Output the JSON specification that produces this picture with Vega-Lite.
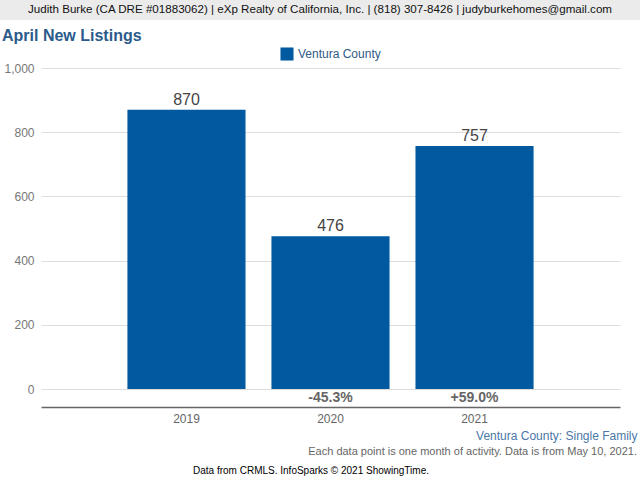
{
  "$schema": "https://vega.github.io/schema/vega-lite/v6.json",
  "padding": 0,
  "spacing": 3,
  "background": "white",
  "resolve": {"scale": {"color": "independent"}, "legend": {"color": "independent"}},
  "config": {
    "font": "Liberation Sans",
    "view": {"stroke": null},
    "legend": {"layout": {"top": {"anchor": "middle"}}}
  },
  "title": {
    "text": "Data from CRMLS. InfoSparks © 2021 ShowingTime.",
    "orient": "bottom",
    "anchor": "middle",
    "fontSize": 10,
    "fontWeight": "normal",
    "color": "#000000",
    "font": "Liberation Sans",
    "offset": 9,
    "dx": -9
  },
  "vconcat": [
    {
      "width": 599,
      "height": 20,
      "data": {"values": [{"header": "Judith Burke (CA DRE #01883062) | eXp Realty of California, Inc. | (818) 307-8426 | judyburkehomes@gmail.com", "left": 0, "right": 640, "mid": 320}]},
      "title": {
        "text": "April New Listings",
        "orient": "bottom",
        "anchor": "start",
        "frame": "bounds",
        "fontSize": 16,
        "fontWeight": "bold",
        "color": "#2b5b8c",
        "offset": 8,
        "dx": 2
      },
      "encoding": {
        "y": {"datum": 0, "type": "quantitative", "scale": {"domain": [0, 1]}, "axis": null}
      },
      "layer": [
        {
          "mark": {"type": "rect", "color": "#ebebeb", "clip": false},
          "encoding": {
            "x": {"field": "left", "type": "quantitative", "scale": {"domain": [41, 640], "zero": false, "nice": false}, "axis": null},
            "x2": {"field": "right"},
            "y2": {"datum": 1}
          }
        },
        {
          "mark": {"type": "text", "fontSize": 11.6, "color": "#111111", "baseline": "middle", "align": "center"},
          "encoding": {
            "x": {"field": "mid", "type": "quantitative"},
            "y": {"datum": 0.5},
            "text": {"field": "header"}
          }
        }
      ]
    },
    {
      "width": 579,
      "height": 339,
      "data": {"values": [
        {"year": "2019", "listings": 870, "pct": "", "series": "Ventura County"},
        {"year": "2020", "listings": 476, "pct": "-45.3%", "series": "Ventura County"},
        {"year": "2021", "listings": 757, "pct": "+59.0%", "series": "Ventura County"}
      ]},
      "title": {
        "text": "Each data point is one month of activity. Data is from May 10, 2021.",
        "orient": "bottom",
        "anchor": "end",
        "frame": "bounds",
        "fontSize": 11,
        "fontWeight": "normal",
        "color": "#666666",
        "offset": 5
      },
      "encoding": {
        "x": {
          "field": "year",
          "type": "nominal",
          "scale": {"type": "band", "paddingInner": 0.18, "paddingOuter": 0.6},
          "axis": {
            "title": "Ventura County: Single Family",
            "titleAnchor": "end",
            "titleAlign": "right",
            "titleX": 596,
            "titleColor": "#4a78a8",
            "titleFontSize": 12,
            "titleFontWeight": "normal",
            "titlePadding": 6,
            "labelAngle": 0,
            "labelColor": "#666666",
            "labelFontSize": 12,
            "labelPadding": 6,
            "ticks": false,
            "domainColor": "#666666",
            "domainWidth": 1.5,
            "grid": false
          }
        }
      },
      "layer": [
        {
          "mark": {"type": "bar"},
          "encoding": {
            "y": {
              "field": "listings",
              "type": "quantitative",
              "scale": {"domain": [-56, 1000], "nice": false, "zero": false},
              "axis": {
                "title": null,
                "values": [0, 200, 400, 600, 800, 1000],
                "labelColor": "#777777",
                "labelFontSize": 12,
                "labelPadding": 7,
                "ticks": false,
                "domain": false,
                "gridColor": "#dddddd",
                "minExtent": 41,
                "maxExtent": 41
              }
            },
            "y2": {"datum": 0},
            "color": {
              "field": "series",
              "type": "nominal",
              "scale": {"range": ["#015aa0"]},
              "legend": {
                "orient": "top",
                "title": null,
                "labelColor": "#2e5a87",
                "labelFontSize": 12,
                "symbolType": "square",
                "symbolSize": 170,
                "symbolStrokeWidth": 0,
                "offset": 7
              }
            }
          }
        },
        {
          "mark": {"type": "text", "fontSize": 16, "color": "#444444", "baseline": "bottom", "dy": -2},
          "encoding": {
            "y": {"field": "listings", "type": "quantitative"},
            "text": {"field": "listings", "type": "quantitative"}
          }
        },
        {
          "mark": {"type": "text", "fontSize": 14, "fontWeight": "bold", "color": "#666666", "baseline": "middle"},
          "encoding": {
            "y": {"datum": -28},
            "text": {"field": "pct"}
          }
        }
      ]
    }
  ]
}
